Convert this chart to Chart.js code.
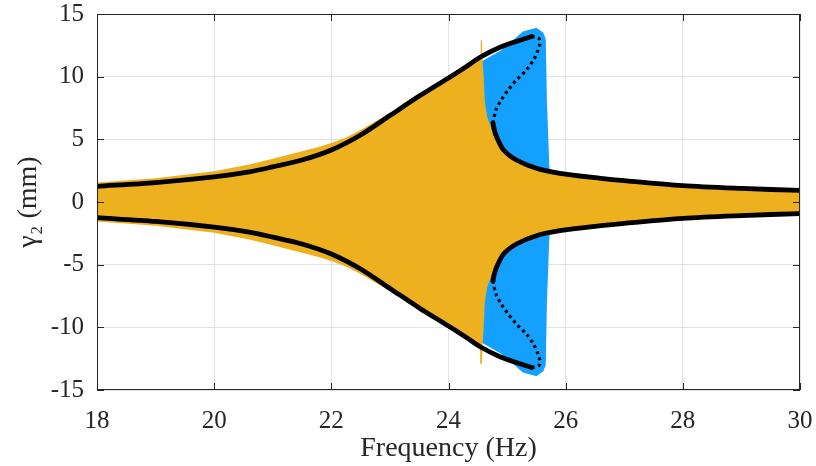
<!DOCTYPE html>
<html>
<head>
<meta charset="utf-8">
<script src="https://cdn.jsdelivr.net/npm/chart.js@4"></script>
<style>
  html, body { margin: 0; padding: 0; background: #fff; }
  #wrap { width: 816px; height: 466px; }
</style>
</head>
<body>
<div id="wrap"><canvas id="freqChart"></canvas></div>
<script>
// axis ticks
const xTicks = [18, 20, 22, 24, 26, 28, 30];
const yTicks = [-15, -10, -5, 0, 5, 10, 15];

// analytical response, upper stable branch (mm)
const hiFreq = [18, 19, 20, 20.6, 21, 21.5, 22, 22.5, 23, 23.5, 24, 24.3, 24.54, 24.88, 25.22, 25.42];
const hiAmp  = [1.25, 1.55, 2.0, 2.4, 2.8, 3.35, 4.15, 5.35, 6.9, 8.45, 9.9, 10.8, 11.55, 12.35, 12.9, 13.2];

// unstable branch (dotted)
const midFreq = [25.42, 25.5, 25.55, 25.56, 25.53, 25.45, 25.33, 25.16, 25.02, 24.90, 24.81, 24.77, 24.76];
const midAmp  = [13.2, 13.15, 13.0, 12.66, 12.13, 11.33, 10.53, 9.74, 8.94, 8.14, 7.34, 6.54, 6.1];

// lower stable branch
const loFreq = [24.76, 24.78, 24.82, 24.94, 25.16, 25.5, 25.9, 26.6, 27, 28, 29, 30];
const loAmp  = [6.3, 5.8, 5.21, 4.15, 3.35, 2.69, 2.29, 1.89, 1.7, 1.3, 1.08, 0.92];

// sweep up envelope (orange)
const upFreq = [18, 19, 20, 20.6, 21, 21.5, 21.75, 22, 22.25, 22.5, 23, 23.5, 24, 24.3, 24.54, 24.55, 24.57, 24.58, 24.6, 24.62, 24.66, 24.72, 24.8, 24.94, 25.16, 25.5, 25.9, 26.6, 27, 28, 29, 30];
const upTop  = [1.55, 1.9, 2.45, 3.0, 3.45, 4.05, 4.35, 4.7, 5.15, 5.75, 7.1, 8.5, 9.9, 10.7, 11.4, 12.9, 12.9, 11.6, 10.0, 8.0, 6.8, 6.0, 5.0, 4.0, 3.2, 2.55, 2.15, 1.75, 1.6, 1.2, 1.0, 0.85];

// sweep down envelope (blue)
const dnFreq = [18, 20, 22, 23, 24, 24.4, 24.6, 24.9, 25.05, 25.27, 25.5, 25.62, 25.66, 25.68, 25.72, 25.73, 26, 27, 28, 30];
const dnTop  = [1.2, 1.9, 3.9, 6.4, 9.6, 10.9, 11.3, 12.1, 12.7, 13.6, 13.9, 13.5, 13.0, 8.0, 3.0, 2.4, 2.1, 1.5, 1.1, 0.8];

const pts = (fx, fy, sign) => fx.map((f, i) => ({ x: f, y: sign * fy[i] }));
const band = (fx, fy) => pts(fx, fy, 1).concat(pts(fx, fy, -1).reverse());

const serif = "'Liberation Serif', 'Times New Roman', serif";
const black = '#000000';
const solid = (data) => ({
  data, borderColor: black, borderWidth: 4.8, pointRadius: 0,
  tension: 0.3, borderCapStyle: 'round', fill: false
});
const dotted = (data) => ({
  data, borderColor: black, borderWidth: 3.2, pointRadius: 0,
  tension: 0.3, borderDash: [3, 3.5], fill: false
});

const framePlugin = {
  id: 'frame',
  afterDraw(chart) {
    const { ctx, chartArea: a, scales: { x, y } } = chart;
    ctx.save();
    ctx.strokeStyle = '#262626';
    ctx.lineWidth = 1;
    ctx.beginPath();
    xTicks.forEach(v => {
      const px = Math.round(x.getPixelForValue(v)) + 0.5;
      ctx.moveTo(px, a.bottom); ctx.lineTo(px, a.bottom - 7);
      ctx.moveTo(px, a.top); ctx.lineTo(px, a.top + 7);
    });
    yTicks.forEach(v => {
      const py = Math.round(y.getPixelForValue(v)) + 0.5;
      ctx.moveTo(a.left, py); ctx.lineTo(a.left + 7, py);
      ctx.moveTo(a.right, py); ctx.lineTo(a.right - 7, py);
    });
    ctx.stroke();
    ctx.strokeRect(Math.round(a.left) + 0.5, Math.round(a.top) + 0.5,
      Math.round(a.right - a.left) - 1, Math.round(a.bottom - a.top) - 1);
    ctx.restore();
  }
};

new Chart(document.getElementById('freqChart'), {
  type: 'line',
  data: {
    datasets: [
      solid(pts(hiFreq, hiAmp, 1)),
      dotted(pts(midFreq, midAmp, 1)),
      solid(pts(loFreq, loAmp, 1)),
      solid(pts(hiFreq, hiAmp, -1)),
      dotted(pts(midFreq, midAmp, -1)),
      solid(pts(loFreq, loAmp, -1)),
      { data: band(upFreq, upTop), borderColor: 'rgba(0,0,0,0)', borderWidth: 0,
        backgroundColor: '#EDB120', fill: 'shape', pointRadius: 0, tension: 0 },
      { data: band(dnFreq, dnTop), borderColor: 'rgba(0,0,0,0)', borderWidth: 0,
        backgroundColor: '#14A0FF', fill: 'shape', pointRadius: 0, tension: 0 }
    ]
  },
  options: {
    responsive: true,
    maintainAspectRatio: false,
    animation: false,
    layout: { padding: 0 },
    plugins: { legend: { display: false }, tooltip: { enabled: false } },
    scales: {
      x: {
        type: 'linear', min: 18, max: 30,
        afterBuildTicks: (s) => { s.ticks = xTicks.map(v => ({ value: v })); },
        afterFit: (s) => { s.height = 76; s.paddingLeft = 0; s.paddingRight = 16; },
        grid: { color: '#e3e3e3', drawTicks: false },
        border: { display: false },
        ticks: { color: '#262626', padding: 16, maxRotation: 0,
          font: { family: serif, size: 25 } },
        title: { display: true, text: 'Frequency (Hz)', color: '#262626',
          padding: { top: 0, bottom: 1 },
          font: { family: serif, size: 28 } }
      },
      y: {
        type: 'linear', min: -15, max: 15,
        afterBuildTicks: (s) => { s.ticks = yTicks.map(v => ({ value: v })); },
        afterFit: (s) => { s.width = 97; s.paddingTop = 14; s.paddingBottom = 0; },
        grid: { color: '#e3e3e3', drawTicks: false },
        border: { display: false },
        ticks: { color: '#262626', padding: 13,
          font: { family: serif, size: 25 } },
        title: { display: true, text: 'γ₂ (mm)', color: '#262626',
          padding: { top: 12, bottom: 0 },
          font: { family: serif, size: 28 } }
      }
    }
  },
  plugins: [framePlugin]
});
</script>
</body>
</html>
